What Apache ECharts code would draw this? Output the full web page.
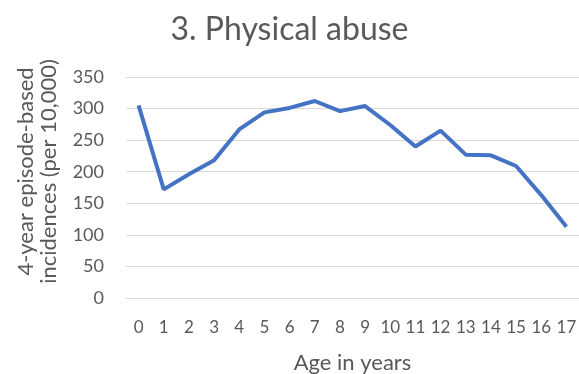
<!DOCTYPE html>
<html>
<head>
<meta charset="utf-8">
<script src="https://cdn.jsdelivr.net/npm/echarts@6/dist/echarts.min.js"></script>
<style>
  html, body { margin: 0; padding: 0; background: #fff; }
  #chart { width: 579px; height: 374px; }
</style>
</head>
<body>
<div id="chart"></div>
<script>
// age in years (x axis)
var ages = ['0','1','2','3','4','5','6','7','8','9','10','11','12','13','14','15','16','17'];
// 4-year episode-based incidences per 10,000
var incidences = [305, 172, 196, 218, 267, 294, 301, 312, 296, 304, 274, 240, 265, 227, 226, 209, 163, 113];

var chart = echarts.init(document.getElementById('chart'));

var textColor = '#595959';
var fontFam = 'Lato, "Open Sans", sans-serif';

var option = {
  animation: false,
  title: {
    text: '3. Physical abuse',
    left: 'center',
    top: 9,
    textStyle: { color: textColor, fontSize: 32, fontWeight: 'normal', fontFamily: fontFam }
  },
  grid: { left: 126, right: 0, top: 77, bottom: 76, outerBoundsMode: 'none' },
  xAxis: {
    type: 'category',
    data: ages,
    boundaryGap: true,
    name: 'Age in years',
    nameLocation: 'middle',
    nameGap: 54,
    nameTextStyle: { color: textColor, fontSize: 22, fontFamily: fontFam },
    axisLine: { show: false },
    axisTick: { show: false },
    axisLabel: { interval: 0, color: textColor, fontSize: 17, margin: 21, fontFamily: fontFam }
  },
  yAxis: {
    type: 'value',
    min: 0,
    max: 350,
    interval: 50,
    name: '4-year episode-based\nincidences (per 10,000)',
    nameLocation: 'middle',
    nameGap: 66,
    nameRotate: 90,
    nameTextStyle: { color: textColor, fontSize: 22, lineHeight: 23, fontFamily: fontFam, padding: [0, 0, 0, 32] },
    axisLabel: { color: textColor, fontSize: 18, margin: 22, fontFamily: fontFam },
    splitLine: { lineStyle: { color: '#d9d9d9', width: 1 } }
  },
  series: [{
    type: 'line',
    data: incidences,
    symbol: 'none',
    lineStyle: { color: '#4472c4', width: 4 }
  }]
};

chart.setOption(option);
</script>
</body>
</html>
